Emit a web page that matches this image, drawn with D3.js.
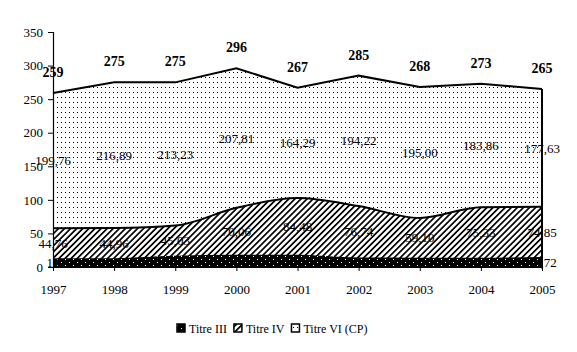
<!DOCTYPE html>
<html><head><meta charset="utf-8">
<script src="https://cdn.jsdelivr.net/npm/d3@7"></script>
<style>body{margin:0;background:#fff}svg{display:block}text{font-family:"Liberation Serif","Times New Roman",serif}</style>
</head><body><svg id="c" width="577" height="352"></svg>
<script>
const years = ["1997","1998","1999","2000","2001","2002","2003","2004","2005"];
const titre3 = [13, 13.2, 16.7, 18.1, 18.2, 14.0, 13.9, 13.8, 14.72];
const titre4 = [44.76, 44.96, 45.03, 70.06, 84.48, 76.74, 59.10, 75.33, 74.85];
const titre6 = [199.76, 216.89, 213.23, 207.81, 164.29, 194.22, 195.00, 183.86, 177.63];
const totals = [259, 275, 275, 296, 267, 285, 268, 273, 265];
const labels3 = ["13", "", "", "", "", "", "", "", "14,72"];
const labels4 = ["44,76", "44,96", "45,03", "70,06", "84,48", "76,74", "59,10", "75,33", "74,85"];
const labels6 = ["199,76", "216,89", "213,23", "207,81", "164,29", "194,22", "195,00", "183,86", "177,63"];
const yTicks = [0, 50, 100, 150, 200, 250, 300, 350];
const seriesNames = ["Titre III", "Titre IV", "Titre VI (CP)"];

const svg = d3.select("#c");
const x = d3.scalePoint().domain(years).range([53, 542]);
const y = d3.scaleLinear().domain([0, 350]).range([267, 32]);

const defs = svg.append("defs");
const pDots = defs.append("pattern").attr("id","dots").attr("patternUnits","userSpaceOnUse").attr("width",4).attr("height",5);
pDots.append("rect").attr("width",4).attr("height",5).attr("fill","#fff");
pDots.append("rect").attr("x",1).attr("y",2).attr("width",1).attr("height",1).attr("fill","#000");
const pHatch = defs.append("pattern").attr("id","hatch").attr("patternUnits","userSpaceOnUse").attr("width",4.3).attr("height",10).attr("patternTransform","rotate(45)");
pHatch.append("rect").attr("width",4.3).attr("height",10).attr("fill","#fff");
pHatch.append("rect").attr("width",1.7).attr("height",10).attr("fill","#000");
const pBlack = defs.append("pattern").attr("id","blk").attr("patternUnits","userSpaceOnUse").attr("width",8).attr("height",6);
pBlack.append("rect").attr("width",8).attr("height",6).attr("fill","#000");
pBlack.append("rect").attr("x",1).attr("y",1).attr("width",1).attr("height",1).attr("fill","#fff");
pBlack.append("rect").attr("x",5).attr("y",4).attr("width",1).attr("height",1).attr("fill","#fff");

const rows = years.map((yr,i)=>({yr, a:titre3[i], b:titre4[i], c:titre6[i], t:totals[i]}));
const curveH = d3.curveMonotoneX;
const curveT = d3.curveLinear;
const cum3 = d => d.a, cum4 = d => d.a + d.b, cumT = d => d.t;

// VI area (dots): fill from bottom to total, then hatch and black on top
svg.append("path").datum(rows).attr("fill","url(#dots)")
  .attr("d", d3.area().x(d=>x(d.yr)).y0(y(0)).y1(d=>y(cumT(d))).curve(curveT));
svg.append("path").datum(rows).attr("fill","url(#hatch)")
  .attr("d", d3.area().x(d=>x(d.yr)).y0(y(0)).y1(d=>y(cum4(d))).curve(curveH));
svg.append("path").datum(rows).attr("fill","url(#blk)")
  .attr("d", d3.area().x(d=>x(d.yr)).y0(y(0)).y1(d=>y(cum3(d))).curve(curveH));
// lines
svg.append("path").datum(rows).attr("fill","none").attr("stroke","#000").attr("stroke-width",2)
  .attr("d", d3.line().x(d=>x(d.yr)).y(d=>y(cumT(d))).curve(curveT));
svg.append("path").datum(rows).attr("fill","none").attr("stroke","#000").attr("stroke-width",2)
  .attr("d", d3.line().x(d=>x(d.yr)).y(d=>y(cum4(d))).curve(curveH));
// right edge
const last = rows[rows.length-1];
svg.append("line").attr("x1",x(last.yr)).attr("x2",x(last.yr)).attr("y1",y(last.t)).attr("y2",y(0)).attr("stroke","#000").attr("stroke-width",2);

// axes
const yAxis = svg.append("g").attr("transform",`translate(${x(years[0])},0)`)
  .call(d3.axisLeft(y).tickValues(yTicks).tickSize(5).tickPadding(5));
yAxis.attr("font-family", null);
yAxis.select(".domain").attr("stroke","#000").attr("stroke-width",1.2);
yAxis.selectAll("text").attr("font-size",13).attr("fill","#000");
const xAxis = svg.append("g").attr("transform",`translate(0,${y(0)})`)
  .call(d3.axisBottom(x).tickSize(4).tickSizeOuter(0).tickPadding(14));
xAxis.attr("font-family", null);
xAxis.select(".domain").attr("stroke","#000");
xAxis.selectAll("text").attr("font-size",13).attr("fill","#000");

// labels
const lab = svg.append("g").attr("font-size",13).attr("text-anchor","middle").attr("fill","#000");
rows.forEach((d,i)=>{
  lab.append("text").attr("x",x(d.yr)).attr("y",(y(cumT(d))+y(cum4(d)))/2).attr("dy","0.35em").text(labels6[i]);
  lab.append("text").attr("x",x(d.yr)).attr("y",(y(cum4(d))+y(cum3(d)))/2).attr("dy","0.35em").text(labels4[i]);
  if (labels3[i]) lab.append("text").attr("x",x(d.yr)).attr("y",(y(cum3(d))+y(0))/2).attr("dy","0.35em").text(labels3[i]);
  lab.append("text").attr("x",x(d.yr)).attr("y",y(cumT(d))-21).attr("dy","0.35em").attr("font-weight","bold").attr("font-size",14).text(totals[i]);
});

// legend
const lg = svg.append("g").attr("font-size",12);
const fills = ["url(#blk)","url(#hatch)","url(#dots)"];
let cx = 177;
seriesNames.forEach((n,i)=>{
  lg.append("rect").attr("x",cx).attr("y",324).attr("width",8).attr("height",8).attr("fill",fills[i]).attr("stroke","#000").attr("stroke-width",1.5);
  const t = lg.append("text").attr("x",cx+12).attr("y",333).text(n);
  cx += 12 + t.node().getComputedTextLength() + 7;
});
</script></body></html>
